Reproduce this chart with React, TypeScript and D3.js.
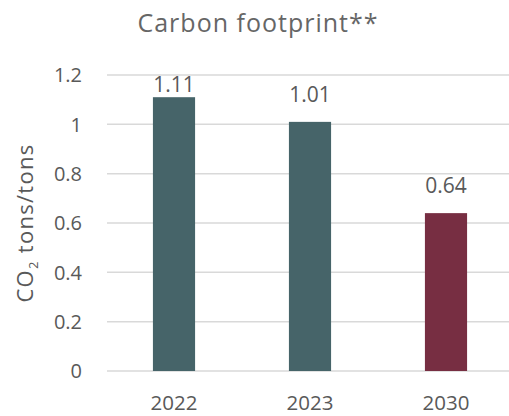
import React from "react";
import * as d3 from "d3";

const years = ["2022", "2023", "2030"];
const footprint = [1.11, 1.01, 0.64];
const barColors = ["#466469", "#466469", "#772E42"];
const yTicks = [0, 0.2, 0.4, 0.6, 0.8, 1, 1.2];

const W = 509;
const H = 416;
const FONT = "'Open Sans', 'Noto Sans', sans-serif";
const TEXT = "#595959";

export default function App() {
  const x = d3.scaleBand<string>().domain(years).range([106, 514]).paddingInner(0.69).paddingOuter(0.345);
  const y = d3.scaleLinear().domain([0, 1.2]).range([371, 75]);

  return (
    <svg width={W} height={H} style={{ position: "absolute", left: 0, top: 0, background: "#fff" }}>
      <text x={258} y={32} textAnchor="middle" fontFamily={FONT} fontSize={25} letterSpacing={1} fill="#666666">
        Carbon footprint**
      </text>

      {yTicks.map((t) => (
        <g key={t}>
          <line x1={107} x2={W} y1={y(t)} y2={y(t)} stroke="#D9D9D9" strokeWidth={1.5} />
          <text x={82} y={y(t)} dy="0.36em" textAnchor="end" fontFamily={FONT} fontSize={20} fill={TEXT}>
            {d3.format("~g")(t)}
          </text>
        </g>
      ))}

      {footprint.map((v, i) => {
        const bx = x(years[i])!;
        const by = y(v);
        const labelY = Math.max(by - 20, 92);
        return (
          <g key={years[i]}>
            <rect x={bx} y={by} width={x.bandwidth()} height={y(0) - by} fill={barColors[i]} />
            <text x={bx + x.bandwidth() / 2} y={labelY} textAnchor="middle" fontFamily={FONT} fontSize={21} fill={TEXT}>
              {v.toFixed(2)}
            </text>
            <text x={bx + x.bandwidth() / 2} y={410} textAnchor="middle" fontFamily={FONT} fontSize={20.5} fill={TEXT}>
              {years[i]}
            </text>
          </g>
        );
      })}

      <text transform={`translate(33, 223) rotate(-90)`} textAnchor="middle" fontFamily={FONT} fontSize={22} letterSpacing={1.3} fill={TEXT}>
        CO<tspan fontSize={13} dy={5}>2</tspan><tspan dy={-5}> tons/tons</tspan>
      </text>
    </svg>
  );
}
